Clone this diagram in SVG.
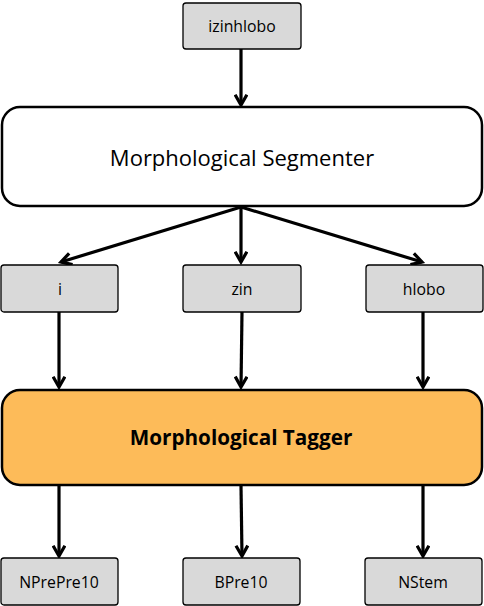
<svg xmlns="http://www.w3.org/2000/svg" width="484" height="606" viewBox="0 0 484 606">
<defs>
<style>
.sm{fill:#d9d9d9;stroke:#000;stroke-width:1.3}
.lb{font-family:"Open Sans","Liberation Sans",sans-serif;font-size:15.8px;fill:#000;text-anchor:middle;dominant-baseline:central}
.big{font-family:"Open Sans","Liberation Sans",sans-serif;font-size:22px;fill:#000;text-anchor:middle;dominant-baseline:central}
.bold{font-weight:bold;font-size:20.7px}
.c{stroke:#000;stroke-width:3.2;fill:none;marker-end:url(#ah)}
</style>
<marker id="ah" viewBox="0 0 10 10" refX="8" refY="5" markerWidth="4.6" markerHeight="4.6" orient="auto" markerUnits="strokeWidth">
<path d="M1,1 L8,5 L1,9" fill="none" stroke="#000" stroke-width="2.2" stroke-linejoin="miter"/>
</marker>
</defs>
<rect width="484" height="606" fill="#fff"/>
<g id="connectors">
<line class="c" x1="241" y1="49" x2="241" y2="105"/>
<line class="c" x1="241" y1="207" x2="61" y2="262"/>
<line class="c" x1="241" y1="207" x2="241" y2="262"/>
<line class="c" x1="241" y1="207" x2="422" y2="262"/>
<line class="c" x1="59" y1="312" x2="59" y2="387"/>
<line class="c" x1="242" y1="312" x2="241" y2="387"/>
<line class="c" x1="423" y1="312" x2="423" y2="387"/>
<line class="c" x1="59" y1="486" x2="59" y2="556"/>
<line class="c" x1="241" y1="486" x2="242" y2="556"/>
<line class="c" x1="423" y1="486" x2="423" y2="556"/>
</g>
<g id="izinhlobo"><rect class="sm" x="183" y="3" width="118" height="46" rx="3"/><text class="lb" x="242" y="26">izinhlobo</text></g>
<g id="segmenter"><rect x="2" y="107" width="480" height="99" rx="18" fill="#fff" stroke="#000" stroke-width="2.5"/><text class="big" x="242" y="157">Morphological Segmenter</text></g>
<g id="i"><rect class="sm" x="1" y="265" width="117" height="47" rx="3"/><text class="lb" x="60" y="289">i</text></g>
<g id="zin"><rect class="sm" x="183" y="265" width="118" height="47" rx="3"/><text class="lb" x="242" y="289">zin</text></g>
<g id="hlobo"><rect class="sm" x="366" y="265" width="117" height="47" rx="3"/><text class="lb" x="424" y="289">hlobo</text></g>
<g id="tagger"><rect x="2" y="390" width="480" height="95" rx="18" fill="#fdbb59" stroke="#000" stroke-width="2.5"/><text class="big bold" x="241" y="437">Morphological Tagger</text></g>
<g id="NPrePre10"><rect class="sm" x="1" y="558" width="117" height="47" rx="3"/><text class="lb" x="59" y="582">NPrePre10</text></g>
<g id="BPre10"><rect class="sm" x="183" y="558" width="117" height="47" rx="3"/><text class="lb" x="241" y="582">BPre10</text></g>
<g id="NStem"><rect class="sm" x="365" y="558" width="117" height="47" rx="3"/><text class="lb" x="423" y="582">NStem</text></g>
</svg>
